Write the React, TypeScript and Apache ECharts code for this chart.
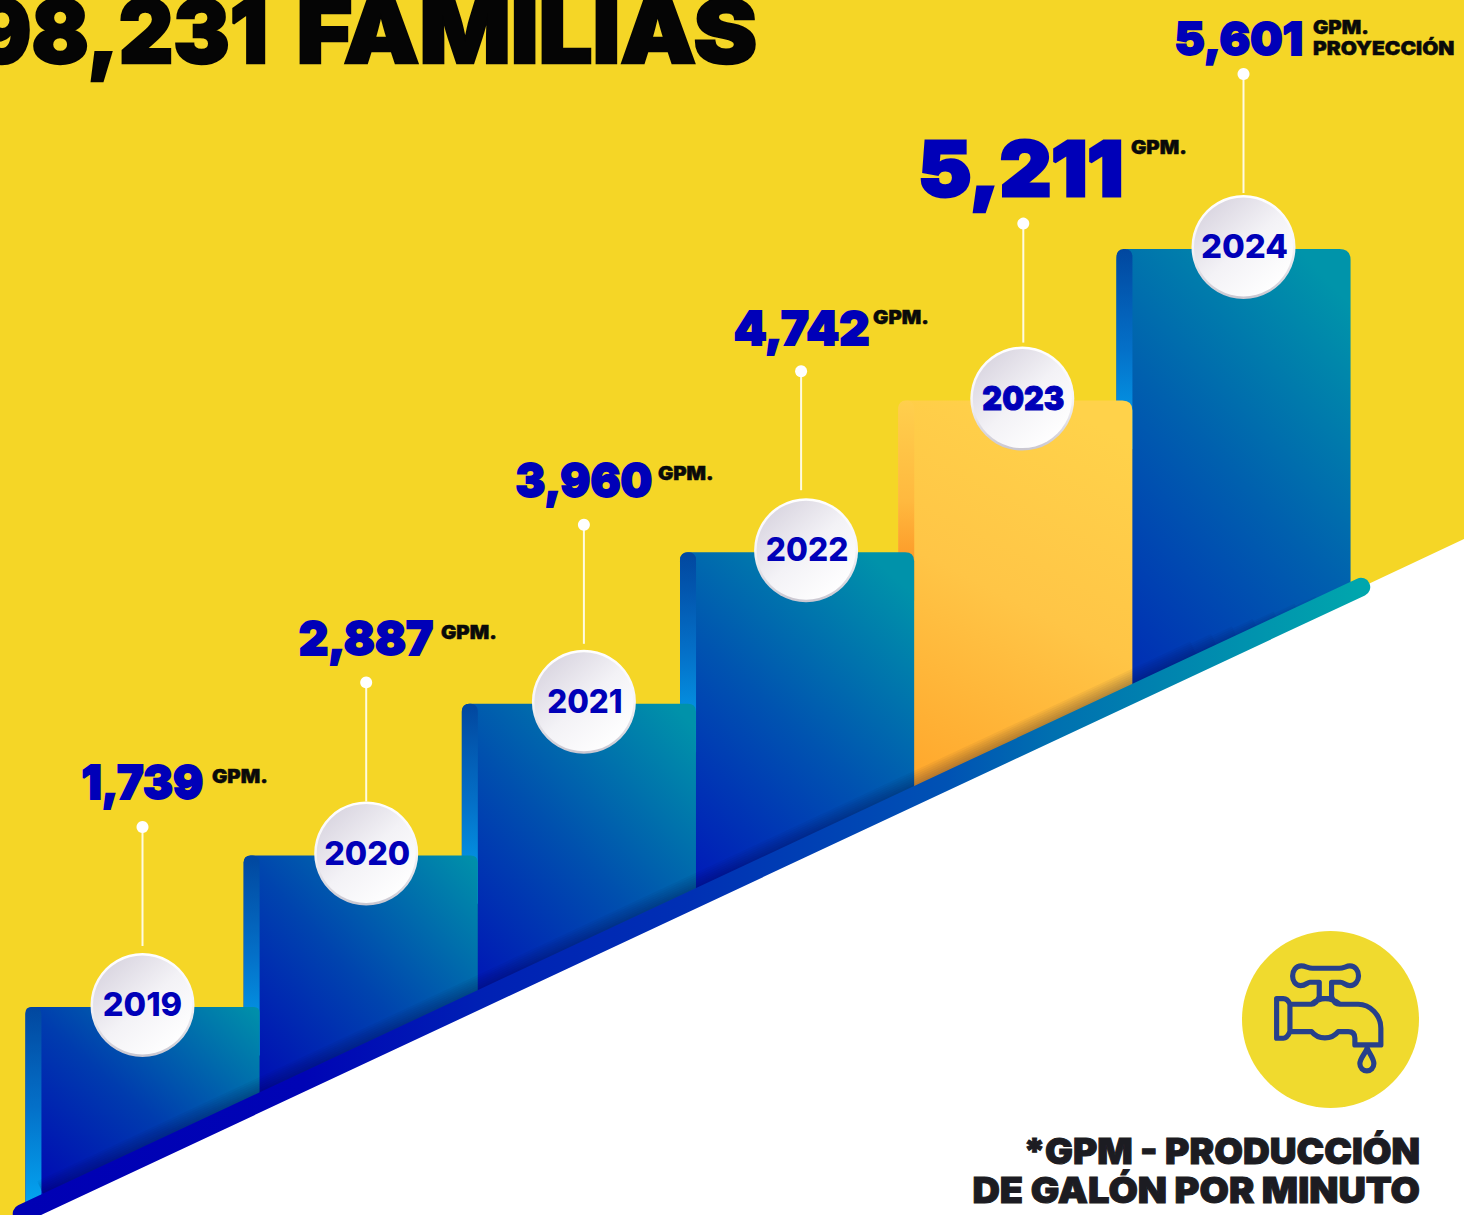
import React, { useEffect, useRef } from "react";
import * as echarts from "echarts";

// ---- data ----
const years = ["2019", "2020", "2021", "2022", "2023", "2024"];
const gpmValues = [1739, 2887, 3960, 4742, 5211, 5601];
const stepLevels = [0, 1, 2, 3, 4, 5]; // the bars are an even staircase, not proportional to the values
const gpmUnits = ["GPM.", "GPM.", "GPM.", "GPM.", "GPM.", "GPM."];
const projectionNote = "PROYECCIÓN";
const titleNumber = "98,231";
const titleWord = "FAMILIAS";
const footLines = ["*GPM - PRODUCCIÓN", "DE GALÓN POR MINUTO"];

// ---- layout and style ----
const W = 1464;
const H = 1215;
const FONT = "Inter, 'Noto Sans', sans-serif";
const BLUE = "#0000b8";
const RIBBON_SLOPE = 0.468;
const ribbonTop = (x: number) => 1093 - RIBBON_SLOPE * (x - 259);
const ribbonCentre = (x: number) => ribbonTop(x) + 9.8;

const bubbleDx = [0, 5.5, 5, 9, 7, 10];
const dotDx = [0, 5.5, 5, 4, 8, 10];
const dotDy = [-180, -173, -179, -181, -177, -175];
const yearSx = [0.99, 0.98, 0.95, 0.96, 0.93, 1];
const gradientTilt = [1, 1, 0.9, 0.8, 0.65, 0.78];
const valueLayout = [
  { dx: -61, dy: -225, size: 47, sx: 0.955 },
  { dx: -62, dy: -218, size: 47, sx: 0.975 },
  { dx: -63.4, dy: -224, size: 47, sx: 0.95 },
  { dx: -63.4, dy: -225, size: 47, sx: 1 },
  { dx: -97, dy: -232, size: 76, sx: 1.05 },
  { dx: -59, dy: -211, size: 46, sx: 0.99 },
];
const unitLayout = [
  { dx: 69.5, dy: -231 },
  { dx: 80.3, dy: -223 },
  { dx: 79, dy: -230 },
  { dx: 76, dy: -235 },
  { dx: 115.7, dy: -253 },
  { dx: 79.5, dy: -222 },
];
const bodyMid = ["#003cae", "#0044ae", "#0050ae", "#0054b0", "#ffc546", "#0060ae"];
const bodyLow = ["#0000b4", "#0004b5", "#0014b6", "#001cb8", "#ffa92e", "#0030b4"];
const bodyHigh = ["#0092aa", "#0092aa", "#0092aa", "#0092aa", "#ffd24a", "#0094aa"];
const stripTop = ["#01479f", "#01479f", "#01479f", "#01479f", "#ffcf4d", "#01479f"];
const stripMid = ["#0470c8", "#0470c8", "#0470c8", "#0470c8", "#ffb93f", "#0470c8"];
const stripLow = ["#03a6f2", "#03a6f2", "#03a6f2", "#03a6f2", "#fb861a", "#03a6f2"];
const shadowSteps = [4, 8, 12, 16, 20, 24, 28];
const faucetD =
  "M268 230 L268 187 L240 187 C232 187 228 197 212 197 C196 197 188 182 188 168 C188 152 198 138 214 138 C228 138 234 145 248 145 L328 145 C342 145 348 138 360 138 C376 138 386 152 386 168 C386 182 376 197 360 197 C346 197 342 187 332 187 L305 187 L305 230 " +
  "M268 236 L305 236 M268 230 C262 245 255 253 245 253 L180 253 C176 243 170 236 160 236 L140 236 L140 355 L160 355 C170 355 176 345 180 335 L245 335 C265 360 305 360 325 335 L355 335 C368 335 375 342 375 355 L375 375 L453 375 L453 325 C453 285 420 253 385 253 L330 253 C318 253 310 245 305 230 " +
  "M245 253 C262 238 280 236 286 236 C292 236 312 238 330 253 M180 253 L180 335 " +
  "M412 385 C420 405 432 415 432 432 A21 21 0 1 1 390 432 C390 415 404 405 412 385 Z";
echarts.graphic.registerShape("faucet", echarts.graphic.extendPath(faucetD, {}));

const grad = (x: number, y: number, x2: number, y2: number, stops: string[]) =>
  new echarts.graphic.LinearGradient(
    x,
    y,
    x2,
    y2,
    stops.map((color, i) => ({ offset: i / (stops.length - 1), color }))
  );

const heavy = (text: string, size: number, color: string, align = "left", weight: any = 900, outline = 0) => ({
  text,
  fontFamily: FONT,
  fontWeight: weight,
  fontSize: size,
  fill: color,
  align,
  verticalAlign: "middle",
  stroke: outline ? color : undefined,
  lineWidth: outline,
});

function renderBar(params: any, api: any) {
  const i = params.dataIndex;
  const [cx, top] = api.coord([i, api.value(1)]);
  const w = api.size([1, 0])[0] * 1.073;
  const left = cx - w / 2;
  const right = cx + w / 2;
  const r = 6 + i;
  const lowL = ribbonTop(left) + 8;
  const lowR = ribbonTop(right) + 8;
  const d = `M${left} ${lowL} L${left} ${top + r} Q${left} ${top} ${left + r} ${top} L${right - r} ${top} Q${right} ${top} ${right} ${top + r} L${right} ${lowR} Z`;
  const base = 2 * (years.length - i);
  const t = gradientTilt[i];
  return {
    type: "group",
    children: [
      {
        type: "path",
        z2: base,
        shape: { pathData: d, x: left, y: top, width: w, height: lowL - top, layout: "cover" },
        style: { fill: grad(t, 0, 1 - t, 1, [bodyHigh[i], bodyMid[i], bodyLow[i]]) },
      },
      {
        type: "rect",
        z2: base + 1,
        shape: { x: left, y: top, width: 16, height: Math.min(200, ribbonTop(left) + 6 - top), r: [7, 7, 0, 0] },
        style: { fill: grad(0, 0, 0, 1, [stripTop[i], stripMid[i], stripLow[i]]) },
      },
    ],
  };
}

function renderBubble(params: any, api: any) {
  const i = params.dataIndex;
  const [cx, top] = api.coord([i, api.value(1)]);
  const bx = cx + bubbleDx[i];
  const by = top - 2;
  const dx = cx + dotDx[i];
  const dy = top + dotDy[i];
  const v = valueLayout[i];
  const u = unitLayout[i];
  const children: any[] = [
    { type: "line", shape: { x1: dx, y1: dy, x2: dx, y2: dy + 119 }, style: { stroke: "#fffbe0", lineWidth: 2 } },
    { type: "circle", shape: { cx: dx, cy: dy, r: 6 }, style: { fill: "#ffffff" } },
    { type: "circle", shape: { cx: bx, cy: by, r: 52 }, style: { fill: grad(0, 0, 0, 1, ["#ffffff", "#f6f5f8", "#c9c6d0"]) } },
    { type: "circle", shape: { cx: bx, cy: by, r: 49.5 }, style: { fill: grad(0.15, 0.1, 0.85, 0.9, ["#dad6e1", "#f3f2f6", "#ffffff"]) } },
    { type: "text", x: bx + (i === 0 ? 0 : 1), y: by - 1, scaleX: yearSx[i], style: heavy(years[i], 33, BLUE, "center", i === 4 ? 900 : 800, i === 4 ? 1 : 0) },
    {
      type: "text",
      x: cx + v.dx,
      y: top + v.dy,
      scaleX: v.sx,
      style: heavy(gpmValues[i].toLocaleString("en-US"), v.size, BLUE, "left", 900, i === 4 ? 3 : 1.8),
    },
    { type: "text", x: cx + u.dx, y: top + u.dy, scaleX: 1.1, style: heavy(gpmUnits[i], 18.5, "#0a0a0a", "left", 900, 0.5) },
  ];
  if (i === years.length - 1) {
    children.push({ type: "text", x: cx + u.dx, y: top + u.dy + 21, scaleX: 1.1, style: heavy(projectionNote, 19, "#0a0a0a", "left", 900, 0.5) });
  }
  return { type: "group", children };
}

export default function App() {
  const ref = useRef<HTMLDivElement>(null);
  useEffect(() => {
    document.body.style.margin = "0";
    document.body.style.overflow = "hidden";
    const chart = echarts.init(ref.current!, null, { renderer: "svg" });
    const data = years.map((y, i) => [y, stepLevels[i], gpmValues[i]]);
    chart.setOption({
      animation: false,
      backgroundColor: "#f5d626",
      grid: { left: 33.4, right: 121.4, top: 249, bottom: 208 },
      xAxis: { type: "category", data: years, show: false },
      yAxis: { type: "value", min: 0, max: 5, show: false },
      series: [
        { type: "custom", name: "Escalones", z: 2, clip: false, renderItem: renderBar, data },
        { type: "custom", name: "GPM", z: 10, clip: false, renderItem: renderBubble, data },
      ],
      graphic: [
        ...shadowSteps.map((s) => ({
          type: "line",
          z: 4,
          shape: { x1: 47, y1: ribbonCentre(47), x2: 1340 - s * 5, y2: ribbonCentre(1340 - s * 5) },
          style: { stroke: "rgba(0,0,50,0.045)", lineWidth: 18 + s },
        })),
        {
          type: "polygon",
          z: 5,
          shape: { points: [[W, 539], [W, H], [26, H]] },
          style: { fill: "#ffffff" },
        },
        {
          type: "line",
          z: 6,
          shape: { x1: 22, y1: ribbonCentre(22), x2: 1361, y2: ribbonCentre(1361) },
          style: {
            lineWidth: 18.5,
            lineCap: "round",
            stroke: new echarts.graphic.LinearGradient(
              22,
              0,
              1361,
              0,
              [
                { offset: 0, color: "#0000b4" },
                { offset: 0.21, color: "#0004b5" },
                { offset: 0.34, color: "#0020b4" },
                { offset: 0.5, color: "#0030b4" },
                { offset: 0.69, color: "#0052b4" },
                { offset: 0.77, color: "#0070b0" },
                { offset: 1, color: "#00a6ad" },
              ],
              true
            ),
          },
        },
        { type: "text", z: 12, x: 268, y: 31, scaleX: 0.96, style: heavy(titleNumber, 88, "#050505", "right", 900, 2.5) },
        { type: "text", z: 12, x: 757, y: 31, scaleX: 1.085, style: heavy(titleWord, 88, "#050505", "right", 900, 2.5) },
        { type: "circle", z: 7, shape: { cx: 1330.5, cy: 1019.5, r: 88.5 }, style: { fill: "#f0da2e" } },
        {
          type: "faucet",
          z: 8,
          x: 1230,
          y: 920,
          scaleX: 1 / 3,
          scaleY: 1 / 3,
          style: { fill: "none", stroke: "#27408b", lineWidth: 15.5, lineJoin: "round" },
        },
        { type: "text", z: 8, x: 1420, y: 1151, scaleX: 1.06, style: heavy(footLines[0], 35, "#1c1c22", "right", 900, 1) },
        { type: "text", z: 8, x: 1420, y: 1191, scaleX: 1.085, style: heavy(footLines[1], 35, "#1c1c22", "right", 900, 1) },
      ],
    });
    return () => chart.dispose();
  }, []);
  return <div ref={ref} style={{ position: "fixed", left: 0, top: 0, width: W, height: H }} />;
}
